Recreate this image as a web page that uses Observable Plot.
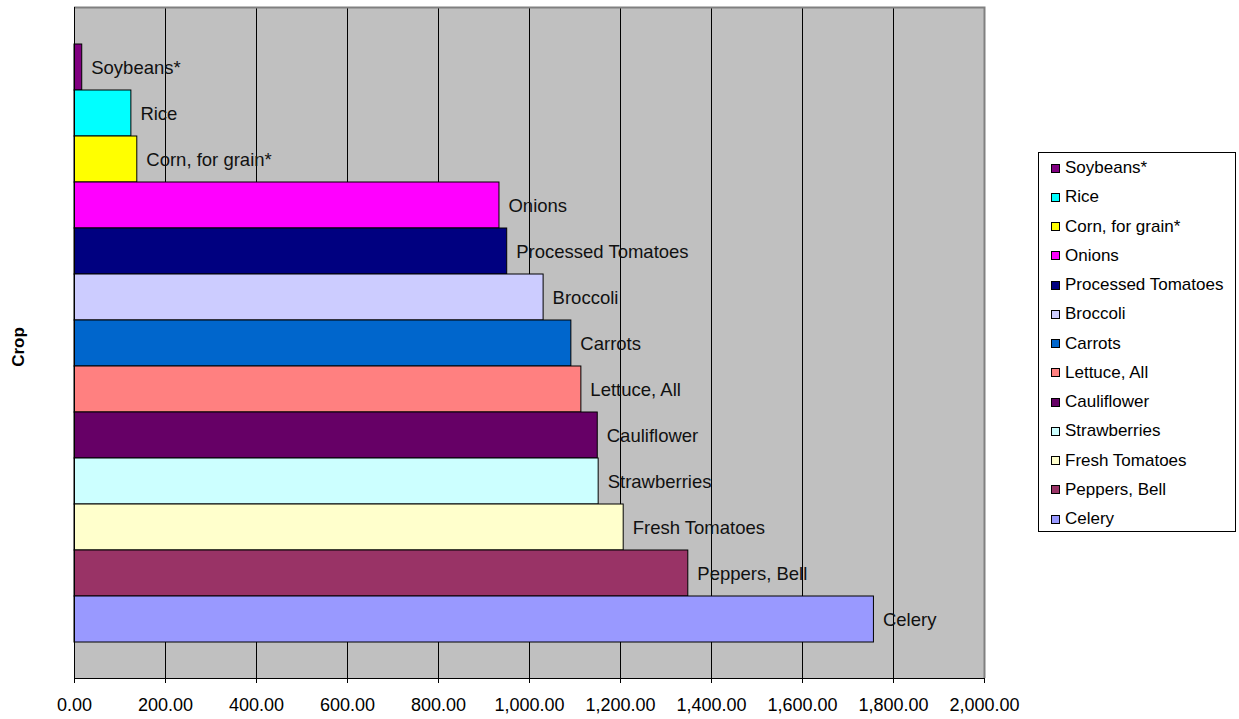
<!DOCTYPE html>
<html><head><meta charset="utf-8">
<script src="https://cdn.jsdelivr.net/npm/d3@7"></script>
<script src="https://cdn.jsdelivr.net/npm/@observablehq/plot@0.6"></script>
<style>
body{margin:0;background:#fff;font-family:"Liberation Sans",Arial,sans-serif;}
#wrap{position:relative;width:1239px;height:719px;}
#legend{position:absolute;left:1038px;top:152px;width:198px;height:380px;border:1px solid #000;background:#fff;box-sizing:border-box}
.item{position:absolute;left:12px;height:20px;display:flex;align-items:center;font-size:17px;color:#000;white-space:nowrap}
.sw{width:7px;height:7px;border:1px solid #000;margin-right:5px;flex:none}
</style></head><body><div id="wrap"></div>
<script>
const crops = ["Soybeans*","Rice","Corn, for grain*","Onions","Processed Tomatoes","Broccoli","Carrots","Lettuce, All","Cauliflower","Strawberries","Fresh Tomatoes","Peppers, Bell","Celery"];
const values = [17,125,138,934,951,1031,1092,1114,1150,1152,1207,1349,1757];
const colors = ["#800080","#00FFFF","#FFFF00","#FF00FF","#000080","#CCCCFF","#0066CC","#FF8080","#660066","#CCFFFF","#FFFFCC","#993366","#9999FF"];
const xTicks = [0,200,400,600,800,1000,1200,1400,1600,1800,2000];
const yTitle = "Crop";

const data = crops.map((c,i)=>({crop:c, value:values[i]}));
const fmt = d3.format(",.2f");

const border = (index, scales, values, dims) => {
  const {width, height, marginLeft:ml, marginRight:mr, marginTop:mt, marginBottom:mb} = dims;
  const g = d3.create("svg:g");
  const x0=ml, x1=width-mr, y0=mt, y1=height-mb;
  g.append("path").attr("d",`M${x0},${y0+0.5}H${x1+0.5}V${y1}`).attr("stroke","#808080").attr("stroke-width",2).attr("fill","none");
  g.append("path").attr("d",`M${x0+0.5},${y0}V${y1+0.5}H${x1}`).attr("stroke","#000").attr("fill","none");
  return g.node();
};

const chart = Plot.plot({
  width: 1239, height: 719,
  marginLeft: 74, marginRight: 255, marginTop: 7, marginBottom: 41,
  style: {fontFamily: '"Liberation Sans", Arial, sans-serif', fontSize: "18px", color: "black", background: "white", overflow: "visible"},
  x: {domain: [0, 2000], axis: null, label: null},
  y: {type: "band", domain: crops, paddingInner: 0, paddingOuter: 0.75, axis: null, label: null},
  color: {domain: crops, range: colors},
  marks: [
    Plot.frame({fill: "#C0C0C0", stroke: null}),
    Plot.ruleX(xTicks, {stroke: "#000", strokeWidth: 1}),
    Plot.barX(data, {x: "value", y: "crop", fill: "crop", stroke: "#000", strokeWidth: 1}),
    Plot.text(data, {x: "value", y: "crop", text: "crop", dx: 9, dy: 1, textAnchor: "start", fontSize: 18.5, fill: "#111"}),
    border,
    Plot.axisX({ticks: xTicks, tickFormat: fmt, tickSize: 5, tickPadding: 15, fontSize: 18, stroke: "#000", fill: "#000", label: null}),
    Plot.text([yTitle], {frameAnchor: "left", dx: -56, dy: 4, rotate: -90, textAnchor: "middle", fontSize: 17, fontWeight: "bold", fill: "#000"})
  ]
});

const wrap = document.getElementById("wrap");
wrap.appendChild(chart);
const legend = document.createElement("div");
legend.id = "legend";
crops.forEach((c,i)=>{
  const it = document.createElement("div");
  it.className = "item";
  it.style.top = (5 + 29.25*i) + "px";
  const sw = document.createElement("span");
  sw.className = "sw";
  sw.style.background = colors[i];
  const t = document.createElement("span");
  t.textContent = c;
  it.appendChild(sw); it.appendChild(t);
  legend.appendChild(it);
});
wrap.appendChild(legend);
</script>
</body></html>
